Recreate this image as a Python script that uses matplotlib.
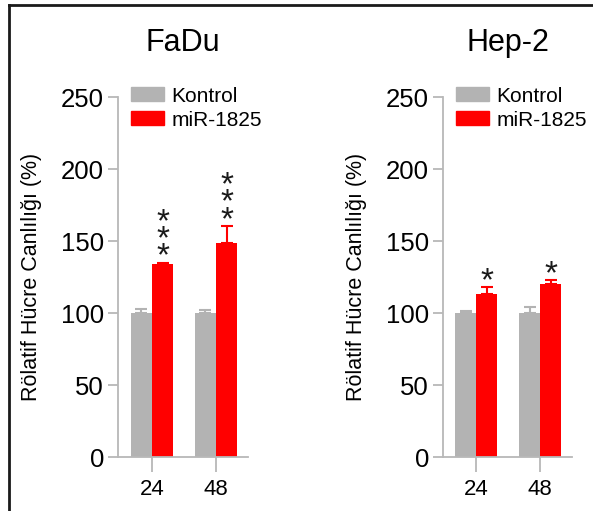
import matplotlib
matplotlib.use("Agg")
import matplotlib.pyplot as plt
import numpy as np
from matplotlib.patches import Patch
from matplotlib.lines import Line2D

plt.rcParams['font.family'] = ['Liberation Sans', 'DejaVu Sans']

groups = ["24", "48"]
series = ["Kontrol", "miR-1825"]
titles = ["FaDu", "Hep-2"]
ylabel = "Rölatif Hücre Canlılığı (%)"

fadu_kontrol = [100, 100]
fadu_kontrol_err = [3, 2]
fadu_mir = [134, 148.5]
fadu_mir_err = [1, 12]
fadu_stars = ["*\n*\n*", "*\n*\n*"]

hep_kontrol = [100, 100]
hep_kontrol_err = [1.5, 4]
hep_mir = [113, 120]
hep_mir_err = [5, 3]
hep_stars = ["*", "*"]

yticks = [0, 50, 100, 150, 200, 250]

GRAY = "#b3b3b3"
RED = "#ff0000"
AX = "#b8b8b8"

W, H = 593, 511
fig = plt.figure(figsize=(W / 100, H / 100), dpi=100)

panels = [
    (titles[0], fadu_kontrol, fadu_kontrol_err, fadu_mir, fadu_mir_err, fadu_stars, 118, 248, -0.531, 1.5),
    (titles[1], hep_kontrol, hep_kontrol_err, hep_mir, hep_mir_err, hep_stars, 443, 572, -0.516, 1.495),
]

for title, k, ke, m, me, stars, x0, x1, xl, xr in panels:
    ax = fig.add_axes([x0 / W, (H - 457) / H, (x1 - x0) / W, 360 / H])
    x = np.arange(len(groups))
    bw = 0.33
    ax.bar(x - bw / 2, k, bw, color=GRAY, zorder=2)
    ax.bar(x + bw / 2, m, bw, color=RED, zorder=2)
    ax.errorbar(x - bw / 2, k, yerr=[np.zeros(len(k)), ke], fmt='none', ecolor=GRAY,
                elinewidth=1.5, capsize=4, capthick=1.5, zorder=1)
    ax.errorbar(x + bw / 2, m, yerr=[np.zeros(len(m)), me], fmt='none', ecolor=RED,
                elinewidth=1.5, capsize=4, capthick=1.5, zorder=1)
    for xi, v, e, s in zip(x, m, me, stars):
        ax.text(xi + bw / 2, v + e - 7, s, ha='center', va='bottom', fontsize=24,
                linespacing=0.43, color='#1a1a1a')
    ax.set_xlim(xl, xr)
    ax.set_ylim(0, 250)
    ax.set_yticks(yticks)
    ax.set_xticks(x)
    ax.set_xticklabels(groups, fontsize=16)
    ax.tick_params(axis='y', labelsize=18.5, length=7, width=1.3, color=AX, pad=3)
    ax.tick_params(axis='x', length=11, width=1.3, color=AX, pad=5)
    for sp in ['top', 'right']:
        ax.spines[sp].set_visible(False)
    for sp in ['left', 'bottom']:
        ax.spines[sp].set_color(AX)
        ax.spines[sp].set_linewidth(1.3)
    ax.set_ylabel(ylabel, fontsize=15.5, labelpad=14)
    ax.set_title(title, fontsize=22, pad=33)
    handles = [Patch(color=GRAY, label=series[0]), Patch(color=RED, label=series[1])]
    ax.legend(handles=handles, loc='upper left', bbox_to_anchor=(0.1, 1.029),
              frameon=False, fontsize=15, handlelength=1.6, handleheight=0.65,
              handletextpad=0.35, borderpad=0, borderaxespad=0, labelspacing=0.25)

# border frame (left and top)
fig.add_artist(Line2D([8.5 / W, 8.5 / W], [0, 1 - 5 / H], transform=fig.transFigure,
                      color='#1a1a1a', linewidth=2))
fig.add_artist(Line2D([8.5 / W, 1], [1 - 5 / H, 1 - 5 / H], transform=fig.transFigure,
                      color='#1a1a1a', linewidth=2))

fig.savefig("out.png", dpi=100, facecolor='white')
